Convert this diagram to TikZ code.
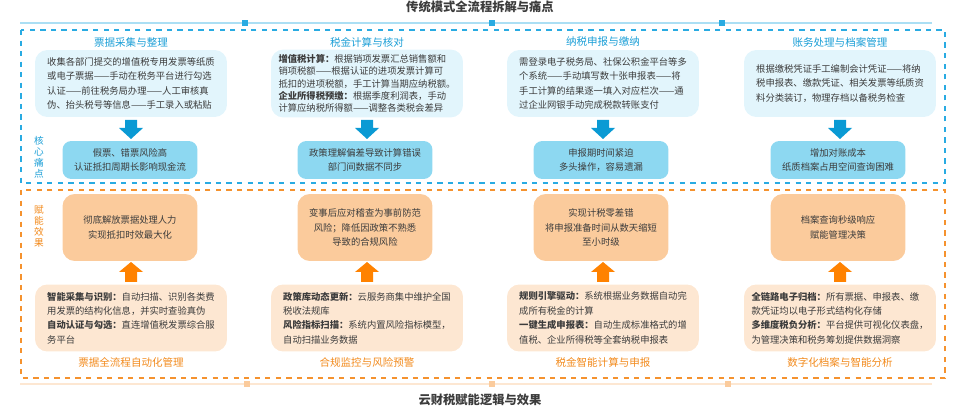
\documentclass[tikz,border=0pt]{standalone}
\usepackage{fontspec}
\setmainfont{Noto Sans CJK SC}
\definecolor{bluedash}{HTML}{29ABE2}
\definecolor{bluehead}{HTML}{1A9ED6}
\definecolor{bluelight}{HTML}{E2F5FC}
\definecolor{bluepain}{HTML}{8DD8F1}
\definecolor{bluearr}{HTML}{0A9AD4}
\definecolor{orgdash}{HTML}{F5922E}
\definecolor{orghead}{HTML}{F28A1C}
\definecolor{orgmid}{HTML}{FBCB9C}
\definecolor{orglight}{HTML}{FDE7D2}
\definecolor{orgarr}{HTML}{FF8200}
\definecolor{txt}{HTML}{3C3C3C}
\tikzset{
  body/.style={font=\fontsize{5.3}{8.2}\selectfont, text=txt},
  desc/.style={body, rounded corners=7pt, minimum width=3.84cm, minimum height=1.34cm, align=left, inner sep=3pt},
  pain/.style={body, fill=bluepain, rounded corners=5pt, minimum width=2.7cm, minimum height=0.76cm, align=center},
  gain/.style={body, fill=orgmid, rounded corners=7pt, minimum width=2.7cm, minimum height=1.34cm, align=center},
  head/.style={font=\fontsize{6}{7}\selectfont},
  side/.style={font=\fontsize{5.5}{6.3}\selectfont, align=center},
  sq/.style={minimum size=0.12cm, inner sep=0pt},
}
\begin{document}
\begin{tikzpicture}[x=0.02cm,y=-0.02cm]
\useasboundingbox (0,0) rectangle (960,408);

% top
\node[font=\fontsize{7}{8}\selectfont\bfseries, text=txt] (ttop) at (480,7) {传统模式全流程拆解与痛点};
\draw[bluelight!70!bluedash, line width=1.2pt] (20,23) -- (932,23);
\foreach \x in {245,492,722} \node[sq, fill=bluedash] at (\x,23) {};
\draw[bluedash, dashed, line width=0.6pt] (21,30) rectangle (945,183);
\node[side, text=bluehead] (lpain) at (39,157) {核\\心\\痛\\点};

\node[head, text=bluehead] (h1) at (131,42) {票据采集与整理};
\node[head, text=bluehead] (h2) at (367,42) {税金计算与核对};
\node[head, text=bluehead] (h3) at (603,42) {纳税申报与缴纳};
\node[head, text=bluehead] (h4) at (840,42) {账务处理与档案管理};

\node[desc, fill=bluelight] (d1) at (131,83.5) {收集各部门提交的增值税专用发票等纸质\\或电子票据——手动在税务平台进行勾选\\认证——前往税务局办理——人工审核真\\伪、抬头税号等信息——手工录入或粘贴};
\node[desc, fill=bluelight, font=\fontsize{5.3}{6.9}\selectfont] (d2) at (367,83.5) {\textbf{增值税计算：}根据销项发票汇总销售额和\\销项税额——根据认证的进项发票计算可\\抵扣的进项税额，手工计算当期应纳税额。\\\textbf{企业所得税预缴：}根据季度利润表，手动\\计算应纳税所得额——调整各类税会差异};
\node[desc, fill=bluelight] (d3) at (603,83.5) {需登录电子税务局、社保公积金平台等多\\个系统——手动填写数十张申报表——将\\手工计算的结果逐一填入对应栏次——通\\过企业网银手动完成税款转账支付};
\node[desc, fill=bluelight] (d4) at (840,83.5) {根据缴税凭证手工编制会计凭证——将纳\\税申报表、缴款凭证、相关发票等纸质资\\料分类装订，物理存档以备税务检查};

\node[pain] (p1) at (130,160) {假票、错票风险高\\认证抵扣周期长影响现金流};
\node[pain] (p2) at (365,160) {政策理解偏差导致计算错误\\部门间数据不同步};
\node[pain] (p3) at (601,160) {申报期时间紧迫\\多头操作，容易遗漏};
\node[pain] (p4) at (838,160) {增加对账成本\\纸质档案占用空间查询困难};

% block arrows down
\foreach \x in {131,367,603,840}
  \fill[bluearr] (\x-6,120) -- (\x+6,120) -- (\x+6,128) -- (\x+12,128)
    -- (\x,139) -- (\x-12,128) -- (\x-6,128) -- cycle;

% bottom
\draw[orgdash, dashed, line width=0.6pt] (21,190) rectangle (945,378);
\node[side, text=orghead] (lgain) at (39,226) {赋\\能\\效\\果};

\node[gain] (g1) at (130,227.5) {彻底解放票据处理人力\\实现抵扣时效最大化};
\node[gain] (g2) at (365,227.5) {变事后应对稽查为事前防范\\风险；降低因政策不熟悉\\导致的合规风险};
\node[gain] (g3) at (601,227.5) {实现计税零差错\\将申报准备时间从数天缩短\\至小时级};
\node[gain] (g4) at (838,227.5) {档案查询秒级响应\\赋能管理决策};

\node[desc, fill=orglight] (s1) at (131,318) {\textbf{智能采集与识别：}自动扫描、识别各类费\\用发票的结构化信息，并实时查验真伪\\\textbf{自动认证与勾选：}直连增值税发票综合服\\务平台};
\node[desc, fill=orglight] (s2) at (367,318) {\textbf{政策库动态更新：}云服务商集中维护全国\\税收法规库\\\textbf{风险指标扫描：}系统内置风险指标模型，\\自动扫描业务数据};
\node[desc, fill=orglight] (s3) at (603,318) {\textbf{规则引擎驱动：}系统根据业务数据自动完\\成所有税金的计算\\\textbf{一键生成申报表：}自动生成标准格式的增\\值税、企业所得税等全套纳税申报表};
\node[desc, fill=orglight] (s4) at (840,318) {\textbf{全链路电子归档：}所有票据、申报表、缴\\款凭证均以电子形式结构化存储\\\textbf{多维度税负分析：}平台提供可视化仪表盘，\\为管理决策和税务筹划提供数据洞察};

% block arrows up
\foreach \x in {131,367,603,840}
  \fill[orgarr] (\x-6,282) -- (\x+6,282) -- (\x+6,272) -- (\x+12,272)
    -- (\x,262) -- (\x-12,272) -- (\x-6,272) -- cycle;

\node[head, text=orghead] (f1) at (131,362) {票据全流程自动化管理};
\node[head, text=orghead] (f2) at (367,362) {合规监控与风险预警};
\node[head, text=orghead] (f3) at (603,362) {税金智能计算与申报};
\node[head, text=orghead] (f4) at (840,362) {数字化档案与智能分析};

\draw[orglight, line width=1.2pt] (20,384) -- (932,384);
\foreach \x in {247,492,728} \node[sq, fill=orgmid] at (\x,384) {};
\node[font=\fontsize{7}{8}\selectfont\bfseries, text=txt] (tbot) at (480,400) {云财税赋能逻辑与效果};
\end{tikzpicture}
\end{document}
